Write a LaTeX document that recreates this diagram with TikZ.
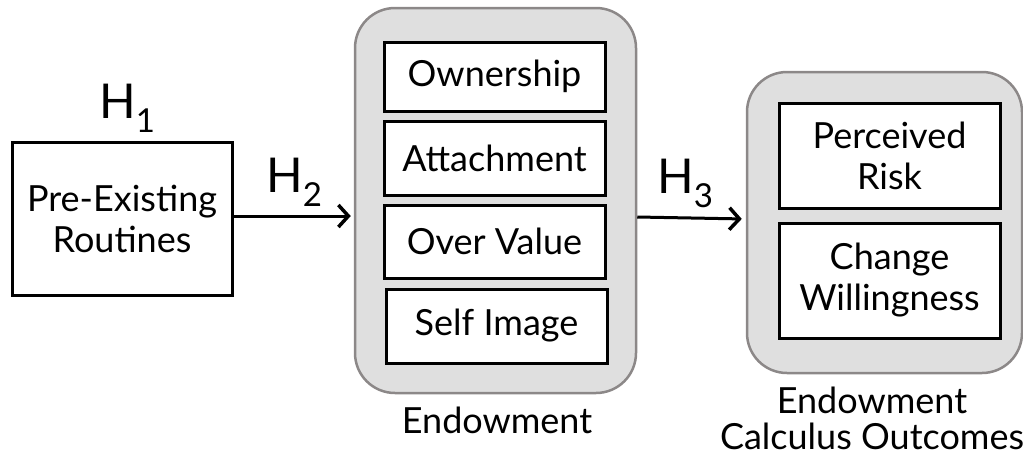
\documentclass[tikz,border=0pt]{standalone}
\usepackage{fontspec}
\setmainfont{Lato}
\usetikzlibrary{arrows.meta}
\definecolor{groupfill}{HTML}{DFDFDF}
\definecolor{groupdraw}{HTML}{8C8888}
\begin{document}
\begin{tikzpicture}[x=1pt,y=-1pt,
  every node/.style={font=\fontsize{36}{41}\selectfont, align=center, inner sep=0pt},
  item/.style={draw=black, line width=3pt, fill=white, rectangle},
  group/.style={draw=groupdraw, line width=2.5pt, fill=groupfill, rounded corners=40pt, rectangle},
  arr/.style={line width=3pt, -{Straight Barb[length=10pt,width=22pt,line width=3.5pt]}},
  hlab/.style={font=\fontsize{48}{48}\selectfont}
]
\useasboundingbox (0,0) rectangle (1023,459);
\newcommand{\hsub}[1]{H\raisebox{-14pt}{\fontsize{33}{33}\selectfont #1}}

\node[item, minimum width=220pt, minimum height=153pt] (pre) at (122,218.5) {Pre-Existing\\Routines};

\node[group, minimum width=281pt, minimum height=385pt] (endow) at (495.5,200.5) {};
\node[item, minimum width=221pt, minimum height=69pt] (own) at (494.5,76.5) {Ownership};
\node[item, minimum width=221pt, minimum height=74pt] (att) at (494.5,158) {Attachment};
\node[item, minimum width=221pt, minimum height=73pt] (over) at (494.5,241.5) {Over Value};
\node[item, minimum width=221pt, minimum height=74pt] (self) at (496.5,326) {Self Image};
\node (endowlab) at (497,420) {Endowment};

\node[group, minimum width=275pt, minimum height=301pt] (out) at (884.5,222.5) {};
\node[item, minimum width=221pt, minimum height=105pt] (risk) at (889.5,155.5) {Perceived\\Risk};
\node[item, minimum width=221pt, minimum height=115pt] (will) at (889.5,280.5) {Change\\Willingness};
\node[font=\fontsize{36}{36}\selectfont] (outlab) at (872,418) {Endowment\\Calculus Outcomes};

\node[hlab, anchor=base west] (h1) at (99,118) {\hsub{1}};
\node[hlab, anchor=base west] (h2) at (266,192) {\hsub{2}};
\node[hlab, anchor=base west] (h3) at (657,193) {\hsub{3}};

\draw[arr, shorten >=3pt] ([yshift=2.5pt]pre.east) -- ([yshift=2.5pt]pre.east -| endow.west);
\draw[arr, shorten >=4pt] ([yshift=-16.5pt]endow.east) -- ([yshift=3.5pt]out.west);
\end{tikzpicture}
\end{document}
